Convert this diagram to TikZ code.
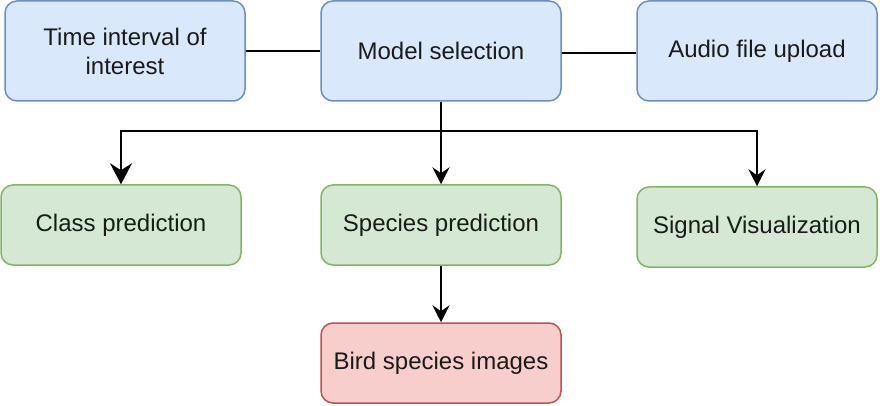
\documentclass[tikz,border=0pt]{standalone}
\usepackage{fontspec}
\setmainfont{Liberation Sans}
\usetikzlibrary{arrows.meta,calc}
\definecolor{bluefill}{HTML}{DAE8FC}
\definecolor{bluedraw}{HTML}{6C8EBF}
\definecolor{greenfill}{HTML}{D5E8D4}
\definecolor{greendraw}{HTML}{82B366}
\definecolor{redfill}{HTML}{F8CECC}
\definecolor{reddraw}{HTML}{B85450}
\definecolor{txt}{HTML}{1A1A1A}
\tikzset{
  box/.style={rectangle, rounded corners=12pt, line width=1.5pt, minimum width=240pt,
    align=center, text=txt, font=\fontsize{24pt}{29pt}\selectfont, inner sep=0pt},
  bluebox/.style={box, fill=bluefill, draw=bluedraw, minimum height=100pt},
  greenbox/.style={box, fill=greenfill, draw=greendraw, minimum height=80pt},
  redbox/.style={box, fill=redfill, draw=reddraw, minimum height=80pt},
  conn/.style={line width=2pt, draw=black},
  arr/.style={conn, -{Stealth[length=17pt, width=17pt, inset=6pt]}},
  bigarr/.style={conn, -{Stealth[length=21pt, width=22pt, inset=7pt]}},
}
\begin{document}
\begin{tikzpicture}[x=1pt, y=-1pt]
\useasboundingbox (0,0) rectangle (880,406);
\node[bluebox] (time) at (125,51) {Time interval of\\interest};
\node[bluebox] (model) at (441,51) {Model selection};
\node[bluebox] (audio) at (757,51) {Audio file upload};
\node[greenbox] (class) at (121,225) {Class prediction};
\node[greenbox] (species) at (441,225) {Species prediction};
\node[greenbox] (signal) at (757,227) {Signal Visualization};
\node[redbox] (bird) at (441,363) {Bird species images};
\coordinate (j) at (441,131);
\draw[conn] (time.east) -- (time.east -| model.west);
\draw[conn] ([yshift=-2pt]model.east) -- ([yshift=-2pt]model.east -| audio.west);
\draw[conn] (model.south) -- (j);
\draw[bigarr] (j) -| (class.north);
\draw[arr] (j) -- (species.north);
\draw[arr] (j) -| (signal.north);
\draw[arr] (species.south) -- (bird.north);
\end{tikzpicture}
\end{document}
